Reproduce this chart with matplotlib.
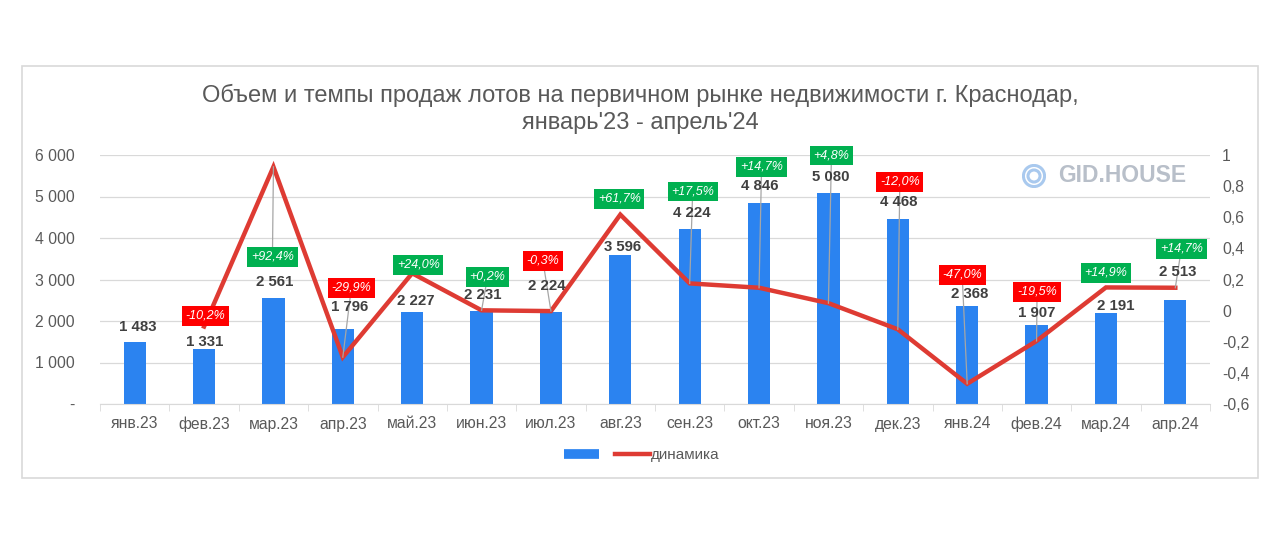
import matplotlib
matplotlib.use('Agg')

import numpy as np
import matplotlib.pyplot as plt
from matplotlib.lines import Line2D
from matplotlib.patches import Rectangle, Circle
from matplotlib.ticker import FuncFormatter

plt.rcParams['font.family'] = ['Liberation Sans', 'DejaVu Sans']

# Data
months = ['янв.23', 'фев.23', 'мар.23', 'апр.23', 'май.23', 'июн.23', 'июл.23', 'авг.23',
          'сен.23', 'окт.23', 'ноя.23', 'дек.23', 'янв.24', 'фев.24', 'мар.24', 'апр.24']
sales = [1483, 1331, 2561, 1796, 2227, 2231, 2224, 3596,
         4224, 4846, 5080, 4468, 2368, 1907, 2191, 2513]
# month-over-month change (first month has none)
dynamics = [np.nan, -0.102, 0.924, -0.299, 0.240, 0.002, -0.003, 0.617,
            0.175, 0.147, 0.048, -0.120, -0.470, -0.195, 0.149, 0.147]

# label layout (left-axis units for y, pixels for x shift)
value_label_y = [1856, 1494, 2940, 2338, 2482, 2627, 2844, 3784,
                 4603, 5254, 5471, 4868, 2651, 2193, 2362, 3181]
value_label_dx = [3, 1, 1, 7, 4, 1, -4, 2, 2, 1, 2, 1, 2, 0, 10, 2]
pct_box_y = [None, 2121, 3543, 2796, 3350, 3061, 3446, 4940,
             5121, 5712, 5989, 5350, 3109, 2699, 3157, 3736]
pct_box_dx = [0, 1.5, -1, 8.5, 6, 6, -8, -1, 3, 2.5, 3, 2, -5, 0.5, 0, 6]

W, H = 1280, 544
fig = plt.figure(figsize=(W / 100, H / 100), dpi=100)
fig.patch.set_facecolor('white')

# outer frame
fig.patches.append(Rectangle((22 / W, 1 - 478 / H), (1258 - 22) / W, (478 - 66) / H,
                             transform=fig.transFigure, fill=False,
                             edgecolor='#D9D9D9', linewidth=1.2))

ax = fig.add_axes([100 / W, 1 - 404 / H, (1210 - 100) / W, (404 - 155) / H])
ax2 = ax.twinx()

x = np.arange(len(months))
px = 1 / 69.25  # one pixel in category units

ax.bar(x, sales, width=0.32, color='#2B83F0', zorder=2)
ax.set_xlim(-0.5, len(months) - 0.5)
ax.set_ylim(0, 6000)
ax.set_yticks(range(0, 6001, 1000))
ax.yaxis.set_major_formatter(FuncFormatter(
    lambda v, p: '-' if v == 0 else f'{int(v):,}'.replace(',', ' ')))
ax.grid(axis='y', color='#D9D9D9', linewidth=0.9, zorder=0)
ax.set_axisbelow(True)

ax.set_xticks(x)
ax.set_xticklabels(months)
ax.set_xticks(np.arange(-0.5, len(months), 1), minor=True)
ax.tick_params(axis='x', which='major', length=0, pad=9, labelsize=11.3, labelcolor='#595959')
ax.tick_params(axis='x', which='minor', length=5, color='#D9D9D9')
ax.tick_params(axis='y', length=0, pad=18, labelsize=11.3, labelcolor='#595959')

for s in ['top', 'left', 'right']:
    ax.spines[s].set_visible(False)
    ax2.spines[s].set_visible(False)
ax.spines['bottom'].set_color('#D9D9D9')
ax2.spines['bottom'].set_visible(False)

ax2.plot(x, dynamics, color='#DE3B33', linewidth=3.2, zorder=3, solid_joinstyle='miter')
ax2.set_ylim(-0.6, 1.0)
ax2.set_yticks(np.arange(-0.6, 1.01, 0.2))
ax2.yaxis.set_major_formatter(FuncFormatter(
    lambda v, p: '0' if abs(v) < 1e-9 else f'{v:g}'.replace('.', ',')))
ax2.tick_params(axis='y', length=0, pad=8.6, labelsize=11.3, labelcolor='#595959')

ax.set_zorder(ax2.get_zorder() - 1)
ax.patch.set_visible(False)

# value labels over bars
for i, v in enumerate(sales):
    ax2.text(x[i] + value_label_dx[i] * px, (value_label_y[i] / 6000) * 1.6 - 0.6,
             f'{v:,}'.replace(',', ' '), ha='center', va='center',
             fontsize=10.8, fontweight='bold', color='#404040', zorder=5)

# percentage boxes with leader lines
for i, d in enumerate(dynamics):
    if np.isnan(d):
        continue
    by = (pct_box_y[i] / 6000) * 1.6 - 0.6
    bx = x[i] + pct_box_dx[i] * px
    if abs(by - d) > 0.13:
        ax2.plot([bx, x[i]], [by, d], color='#A6A6A6', linewidth=0.9, zorder=4)
    txt = f'{d * 100:+.1f}%'.replace('.', ',')
    ax2.text(bx, by, txt, ha='center', va='center', fontsize=9, style='italic',
             color='white', zorder=6,
             bbox=dict(boxstyle='square,pad=0.3',
                       facecolor='#00B050' if d >= 0 else '#FF0000', edgecolor='none'))

# title
fig.text(0.5, 1 - 95 / H, 'Объем и темпы продаж лотов на первичном рынке недвижимости г. Краснодар,',
         ha='center', va='center', fontsize=17, color='#595959')
fig.text(0.5, 1 - 123 / H, "январь'23 - апрель'24",
         ha='center', va='center', fontsize=17, color='#595959')

# logo
lax = fig.add_axes([1022 / W, 1 - 188 / H, 24 / W, 24 / H])
lax.set_xlim(-1, 1)
lax.set_ylim(-1, 1)
lax.set_aspect('equal')
lax.axis('off')
lax.add_patch(Circle((0, 0), 0.88, fill=False, edgecolor='#A9C9EE', linewidth=2.2))
lax.add_patch(Circle((0, 0), 0.5, fill=False, edgecolor='#A9C9EE', linewidth=2.2))
fig.text(1058 / W, 1 - 176 / H, 'GID.HOUSE', ha='left', va='center',
         fontsize=16.5, fontweight='bold', color='#B8BFC9')

# legend
handles = [Line2D([], [], color='#2B83F0', linewidth=7, solid_capstyle='butt'),
           Line2D([], [], color='#DE3B33', linewidth=3.2)]
fig.legend(handles, ['', 'динамика'], loc='center', bbox_to_anchor=(642 / W, 1 - 455 / H),
           ncol=2, frameon=False, fontsize=11, labelcolor='#595959',
           handlelength=2.3, handletextpad=0.1, columnspacing=0.9)

fig.savefig('out.png', dpi=100)
